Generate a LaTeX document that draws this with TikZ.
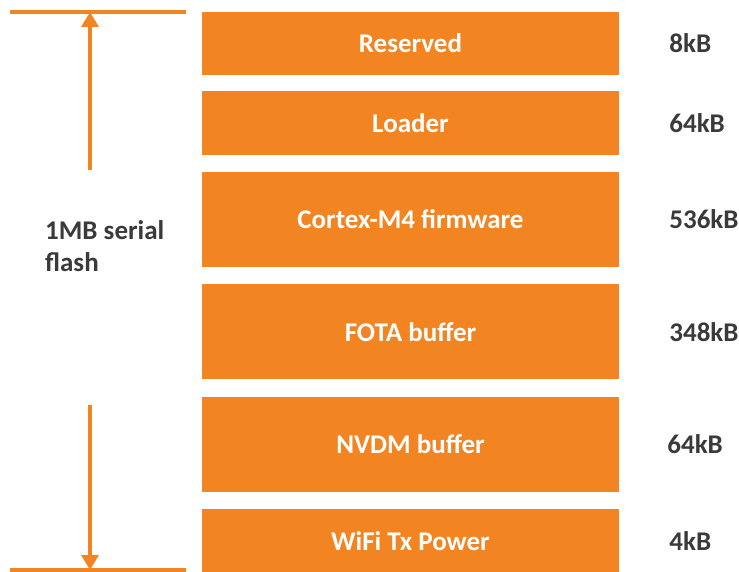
\documentclass[tikz,border=0pt]{standalone}
\usepackage{fontspec}
\setmainfont{Carlito}
\usepackage{xcolor}
\usepackage{tikz}
\usetikzlibrary{arrows.meta, positioning}
\definecolor{flashorange}{HTML}{F28522}
\definecolor{labelgray}{HTML}{3A3A3A}
\tikzstyle{arrow} = [line width=3.5pt, draw=flashorange, -{Triangle[length=15pt,width=17pt]}]
\tikzstyle{edge} = [line width=4pt, draw=flashorange]
\tikzstyle{region} = [rectangle, fill=flashorange, minimum width=417pt, text=white, font=\fontsize{27}{32}\selectfont\bfseries, inner sep=0pt]
\tikzstyle{size} = [anchor=west, text=labelgray, font=\fontsize{27}{32}\selectfont\bfseries, inner sep=0pt]

\begin{document}
\begin{tikzpicture}[x=1pt, y=-1pt, node distance=16pt]
  \useasboundingbox (0,0) rectangle (739,572);

  % Regions
  \node (reserved) [region, minimum height=63pt] at (410.5,43.5) {Reserved};
  \node (loader) [region, minimum height=64pt, below=of reserved] {Loader};
  \node (firmware) [region, minimum height=95pt, below=of loader] {Cortex-M4 firmware};
  \node (fota) [region, minimum height=95pt, below=17pt of firmware] {FOTA buffer};
  \node (nvdm) [region, minimum height=95pt, below=17pt of fota] {NVDM buffer};
  \node (wifi) [region, minimum height=65pt, below=17pt of nvdm] {WiFi Tx Power};

  % Sizes
  \node (s1) [size, right=50pt of reserved.east] {8kB};
  \node (s2) [size, right=50pt of loader.east] {64kB};
  \node (s3) [size, right=50pt of firmware.east] {536kB};
  \node (s4) [size, right=50pt of fota.east] {348kB};
  \node (s5) [size, right=48pt of nvdm.east] {64kB};
  \node (s6) [size, right=50pt of wifi.east] {4kB};

  % Total size
  \node (total) [size, align=left] at (45,246) {1MB serial\\flash};

  % Top and bottom edges
  \coordinate (tl) at (10,12);
  \coordinate (tr) at (186,12);
  \coordinate (bl) at (10,570);
  \coordinate (br) at (186,570);
  \coordinate (top) at (90,12);
  \coordinate (bottom) at (90,570);
  \coordinate (upstart) at (90,170);
  \coordinate (downstart) at (90,405);
  \draw[edge] (tl) -- (tr);
  \draw[edge] (bl) -- (br);

  % Arrows
  \draw[arrow] (upstart) -- (top);
  \draw[arrow] (downstart) -- (bottom);

\end{tikzpicture}
\end{document}
